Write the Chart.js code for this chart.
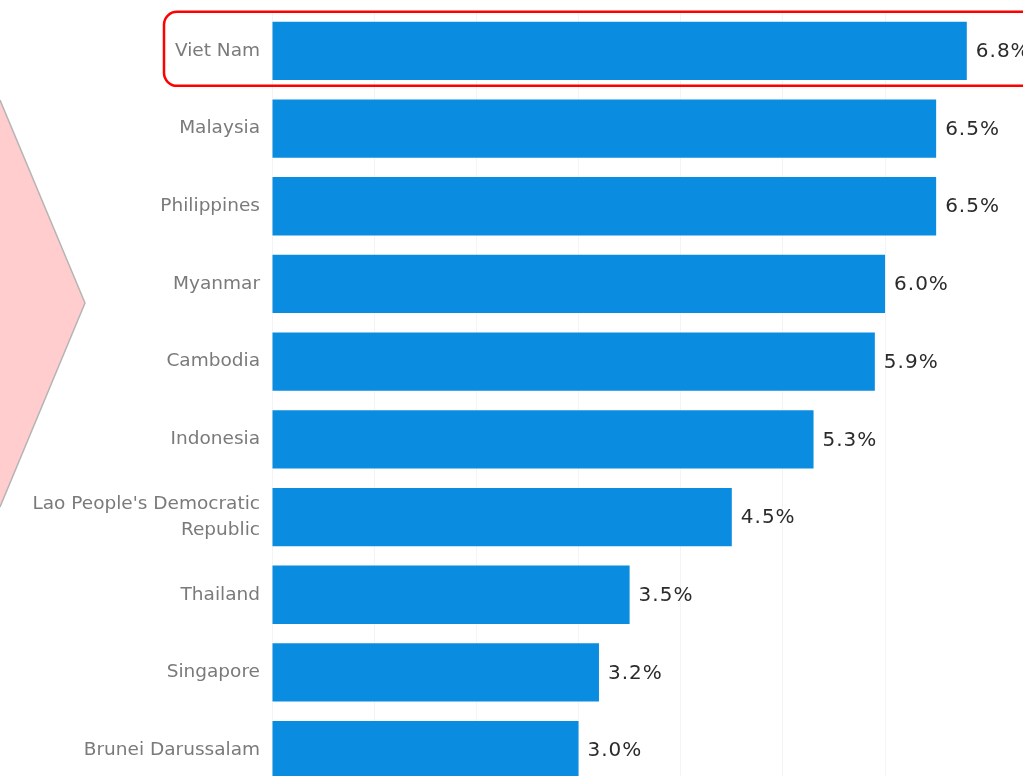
<!DOCTYPE html>
<html>
<head>
    <title>GDP growth - ASEAN</title>
    <script src="https://cdn.jsdelivr.net/npm/chart.js"></script>
    <style>
        html, body {
            margin: 0;
            padding: 0;
            overflow: hidden;
            background: #ffffff;
        }
        .container {
            position: relative;
            width: 1023px;
            height: 789px;
        }
    </style>
</head>
<body>
    <div class="container">
        <canvas id="growthChart"></canvas>
    </div>
    <script>
        // Countries, top to bottom
        const countries = [
            'Viet Nam',
            'Malaysia',
            'Philippines',
            'Myanmar',
            'Cambodia',
            'Indonesia',
            ["Lao People's Democratic", 'Republic'],
            'Thailand',
            'Singapore',
            'Brunei Darussalam'
        ];

        // Growth rate in percent
        const growth = [6.8, 6.5, 6.5, 6.0, 5.9, 5.3, 4.5, 3.5, 3.2, 3.0];

        const barColor = '#0a8ce0';
        const highlightIndex = 0;

        // Pink arrow on the left and the red frame around the first row
        const decorations = {
            id: 'decorations',
            beforeDraw(chart) {
                const ctx = chart.ctx;
                ctx.save();
                ctx.beginPath();
                ctx.moveTo(-10, 96);
                ctx.lineTo(0, 100);
                ctx.lineTo(85, 303);
                ctx.lineTo(0, 507);
                ctx.lineTo(-10, 510);
                ctx.closePath();
                ctx.fillStyle = '#ffcdcd';
                ctx.fill();
                ctx.beginPath();
                ctx.moveTo(0, 100);
                ctx.lineTo(85, 303);
                ctx.lineTo(0, 507);
                ctx.strokeStyle = '#b5b5b5';
                ctx.lineWidth = 1.5;
                ctx.stroke();
                ctx.restore();
            },
            afterDraw(chart) {
                const ctx = chart.ctx;
                const y = chart.scales.y.getPixelForValue(highlightIndex);
                ctx.save();
                ctx.beginPath();
                ctx.roundRect(164, y - 39, 900, 74, 13);
                ctx.strokeStyle = '#ff0000';
                ctx.lineWidth = 2.5;
                ctx.stroke();
                ctx.restore();
            }
        };

        // Value labels at the end of each bar
        const valueLabels = {
            id: 'valueLabels',
            afterDatasetsDraw(chart) {
                const ctx = chart.ctx;
                const meta = chart.getDatasetMeta(0);
                ctx.save();
                ctx.font = '20px "DejaVu Sans", sans-serif';
                ctx.letterSpacing = '1px';
                ctx.fillStyle = '#2b2b2b';
                ctx.textAlign = 'left';
                ctx.textBaseline = 'middle';
                meta.data.forEach((bar, i) => {
                    ctx.fillText(growth[i].toFixed(1) + '%', bar.x + 9, bar.y + 1);
                });
                ctx.restore();
            }
        };

        const ctx = document.getElementById('growthChart').getContext('2d');
        new Chart(ctx, {
            type: 'bar',
            data: {
                labels: countries,
                datasets: [{
                    data: growth,
                    backgroundColor: barColor,
                    borderWidth: 0,
                    categoryPercentage: 1,
                    barPercentage: 0.75
                }]
            },
            options: {
                indexAxis: 'y',
                responsive: true,
                maintainAspectRatio: false,
                animation: false,
                layout: {
                    padding: { top: 12, right: 0, bottom: 0, left: 0 }
                },
                plugins: {
                    legend: { display: false },
                    tooltip: { enabled: false }
                },
                scales: {
                    x: {
                        min: 0,
                        max: 7.35,
                        ticks: { display: false, stepSize: 1 },
                        border: { display: false },
                        grid: {
                            color: 'rgba(0, 0, 0, 0.045)',
                            drawTicks: false
                        }
                    },
                    y: {
                        afterFit(scale) {
                            scale.width = 272;
                            scale.paddingTop = 0;
                            scale.paddingBottom = 0;
                        },
                        border: { display: false },
                        grid: { display: false, drawTicks: false },
                        ticks: {
                            padding: 12,
                            color: '#7a7a7a',
                            font: {
                                family: '"DejaVu Sans", sans-serif',
                                size: 18.5,
                                lineHeight: 1.4
                            }
                        }
                    }
                }
            },
            plugins: [decorations, valueLabels]
        });
    </script>
</body>
</html>
